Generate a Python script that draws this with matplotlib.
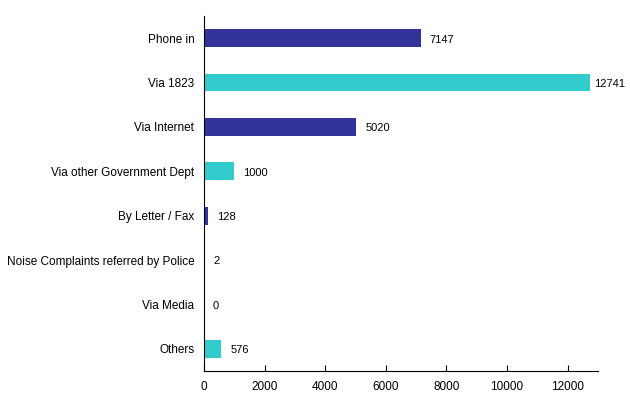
import matplotlib
matplotlib.use("Agg")
import matplotlib.pyplot as plt

plt.rcParams['font.family'] = ['Liberation Sans', 'DejaVu Sans']

categories = ["Phone in", "Via 1823", "Via Internet", "Via other Government Dept",
              "By Letter / Fax", "Noise Complaints referred by Police", "Via Media", "Others"]
values = [7147, 12741, 5020, 1000, 128, 2, 0, 576]
colors = ["#333399", "#33CCCC"]
xticks = [0, 2000, 4000, 6000, 8000, 10000, 12000]

fig = plt.figure(figsize=(6.3, 4.18), dpi=100)
ax = fig.add_axes([204 / 630, 47 / 418, 394 / 630, 355 / 418])

ypos = list(range(len(categories)))
bar_colors = [colors[i % 2] for i in ypos]
ax.barh(ypos, values, height=0.4, color=bar_colors)

for y, v in zip(ypos, values):
    pad = 3 if v > 12000 else 6.5
    ax.annotate(str(v), (v, y), xytext=(pad, -1), textcoords="offset points",
                va="center", ha="left", fontsize=8)

ax.set_yticks(ypos)
ax.set_yticklabels(categories, fontsize=8.5)
ax.set_ylim(len(categories) - 0.5, -0.5)
ax.set_xlim(0, 13000)
ax.set_xticks(xticks)
ax.set_xticklabels([str(t) for t in xticks], fontsize=8.5)

ax.spines['top'].set_visible(False)
ax.spines['right'].set_visible(False)
ax.tick_params(axis='y', length=0, pad=7)
ax.tick_params(axis='x', direction='in', length=4, pad=7)

fig.savefig("out.png", dpi=100)
